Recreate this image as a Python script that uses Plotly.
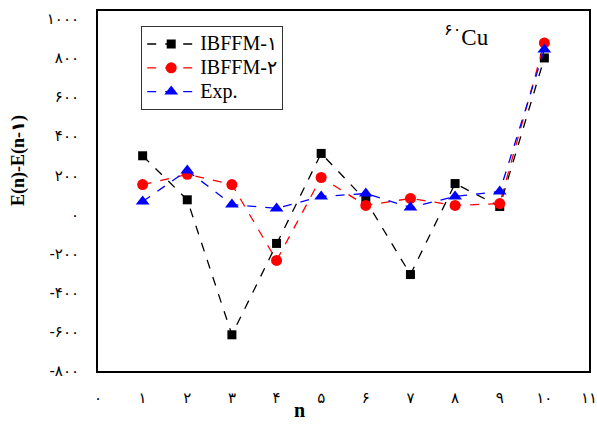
import plotly.graph_objects as go

n_vals = [1, 2, 3, 4, 5, 6, 7, 8, 9, 10]
ibffm1 = [300, 75, -615, -148, 312, 72, -307, 158, 41, 800]
ibffm2 = [153, 205, 153, -235, 189, 46, 82, 46, 56, 877]
exp_vals = [66, 225, 51, 31, 92, 107, 36, 92, 117, 843]

x_ticks = list(range(0, 12))
x_ticktext = ["۰", "۱", "۲", "۳", "۴", "۵", "۶", "۷", "۸", "۹", "۱۰", "۱۱"]
y_ticks = [-800, -600, -400, -200, 0, 200, 400, 600, 800, 1000]
y_ticktext = ["-۸۰۰", "-۶۰۰", "-۴۰۰", "-۲۰۰", "۰", "۲۰۰", "۴۰۰", "۶۰۰", "۸۰۰", "۱۰۰۰"]

serif = "Liberation Serif, serif"
digit_font = "DejaVu Sans, sans-serif"


def lat(s, size=None):
    st = "font-family:Liberation Serif"
    if size:
        st += ";font-size:%dpx" % size
    return "<span style='" + st + "'>" + s + "</span>"


def pdig(s, size=None):
    st = "font-family:DejaVu Sans"
    if size:
        st += ";font-size:%dpx" % size
    return "<span style='" + st + "'>" + s + "</span>"


fig = go.Figure()
fig.add_trace(go.Scatter(x=n_vals, y=ibffm1, mode="lines+markers",
                         name=lat("IBFFM-", 20) + pdig("۱", 19),
                         line=dict(color="black", dash="dash", width=1.3),
                         marker=dict(symbol="square", size=9, color="black")))
fig.add_trace(go.Scatter(x=n_vals, y=ibffm2, mode="lines+markers",
                         name=lat("IBFFM-", 20) + pdig("۲", 19),
                         line=dict(color="red", dash="dash", width=1.3),
                         marker=dict(symbol="circle", size=11, color="red")))
fig.add_trace(go.Scatter(x=n_vals, y=exp_vals, mode="lines+markers",
                         name=lat("Exp.", 20),
                         line=dict(color="blue", dash="dash", width=1.3),
                         marker=dict(symbol="triangle-up", size=12, color="blue")))

fig.update_layout(
    width=597, height=428,
    margin=dict(l=98, r=8, t=11, b=57, autoexpand=False),
    paper_bgcolor="white", plot_bgcolor="white",
    showlegend=True,
    legend=dict(x=0.088, y=0.958, xanchor="left", yanchor="top",
                bordercolor="#333", borderwidth=1, bgcolor="white",
                font=dict(family=serif, size=16, color="black"),
                itemwidth=48, tracegroupgap=0),
    xaxis=dict(range=[0, 11], tickmode="array", tickvals=x_ticks, ticktext=x_ticktext,
               showgrid=False, zeroline=False, showline=True, linecolor="black",
               linewidth=2, mirror=True, ticks="", ticklabelstandoff=12, automargin=False,
               ticklabeloverflow="allow",
               tickfont=dict(family=digit_font, size=15, color="black")),
    yaxis=dict(range=[-800, 1040], tickmode="array", tickvals=y_ticks, ticktext=y_ticktext,
               showgrid=False, zeroline=False, showline=True, linecolor="black",
               linewidth=2, mirror=True, ticks="", ticklabelstandoff=14, automargin=False,
               ticklabeloverflow="allow",
               tickfont=dict(family=digit_font, size=15, color="black")),
    annotations=[
        dict(x=0.70, y=0.98, xref="paper", yref="paper", xanchor="left", yanchor="top",
             text="<sup>" + pdig("۶۰") + "</sup>" + lat("Cu"), showarrow=False,
             font=dict(family=serif, size=23, color="black")),
        dict(x=0.411, y=-0.108, xref="paper", yref="paper", xanchor="center", yanchor="middle",
             text="<b>" + lat("n") + "</b>", showarrow=False,
             font=dict(family=serif, size=20, color="black")),
        dict(x=-0.163, y=0.586, xref="paper", yref="paper", xanchor="center", yanchor="middle",
             text="<b>" + lat("E(n)-E(n-") + pdig("۱") + lat(")") + "</b>", showarrow=False,
             textangle=-90, font=dict(family=serif, size=18, color="black")),
    ],
)

fig.write_html("out.html", config={"displayModeBar": False},
               post_script="document.body.style.margin='0';")
